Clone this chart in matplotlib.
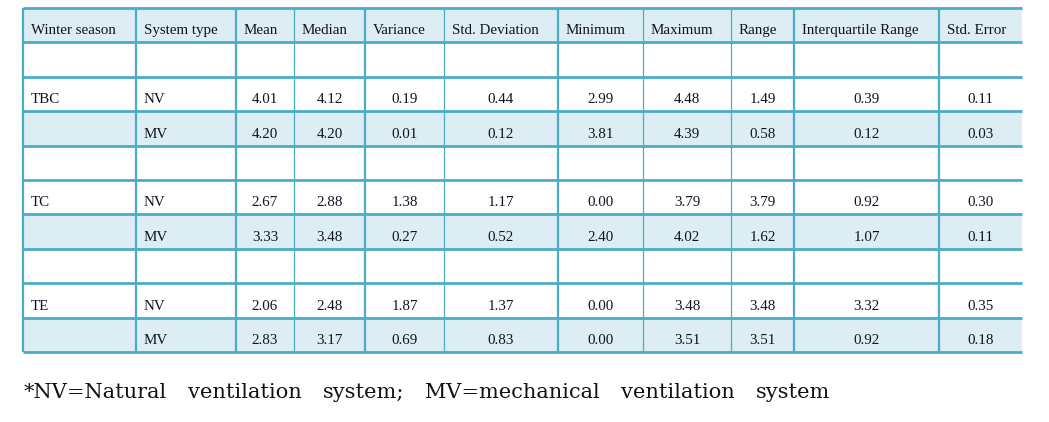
import matplotlib
matplotlib.use("Agg")
import matplotlib.pyplot as plt
from matplotlib.patches import Rectangle

headers = ["Winter season", "System type", "Mean", "Median", "Variance", "Std. Deviation",
           "Minimum", "Maximum", "Range", "Interquartile Range", "Std. Error"]
seasons = ["TBC", "TC", "TE"]
systems = ["NV", "MV"]
mean = [[4.01, 4.20], [2.67, 3.33], [2.06, 2.83]]
median = [[4.12, 4.20], [2.88, 3.48], [2.48, 3.17]]
variance = [[0.19, 0.01], [1.38, 0.27], [1.87, 0.69]]
std_dev = [[0.44, 0.12], [1.17, 0.52], [1.37, 0.83]]
minimum = [[2.99, 3.81], [0.00, 2.40], [0.00, 0.00]]
maximum = [[4.48, 4.39], [3.79, 4.02], [3.48, 3.51]]
value_range = [[1.49, 0.58], [3.79, 1.62], [3.48, 3.51]]
iqr = [[0.39, 0.12], [0.92, 1.07], [3.32, 0.92]]
std_err = [[0.11, 0.03], [0.30, 0.11], [0.35, 0.18]]
footnote_words = ["*NV=Natural", "ventilation", "system;", "MV=mechanical", "ventilation", "system"]

stats = [mean, median, variance, std_dev, minimum, maximum, value_range, iqr, std_err]

# layout (pixel coordinates)
W, H = 1049, 422
col_x = [23, 136, 236, 294, 365, 444, 558, 643, 731, 794, 939, 1022]
thin_cols = {294, 444, 643, 731}
top, bottom = 8, 352
n_rows = 10
row_h = (bottom - top) / n_rows
line_c = "#4BACC6"
fill_c = "#DCEEF3"
txt_c = "#111122"
font = "Liberation Serif"
fs = 10.8
foot_left, foot_right, foot_y = 24, 830, 392

fig = plt.figure(figsize=(W / 100, H / 100), dpi=100)
ax = fig.add_axes([0, 0, 1, 1])
ax.set_xlim(0, W)
ax.set_ylim(H, 0)
ax.axis("off")

rows = [("header", None, None)]
for si, s in enumerate(seasons):
    rows.append(("blank", None, None))
    for ki, k in enumerate(systems):
        rows.append(("data", si, ki))

for ri, (kind, si, ki) in enumerate(rows):
    y0 = top + ri * row_h
    y1 = y0 + row_h
    shaded = kind == "header" or (kind == "data" and ki == 1)
    if shaded:
        ax.add_patch(Rectangle((col_x[0], y0), col_x[-1] - col_x[0], row_h,
                               facecolor=fill_c, edgecolor="none", zorder=1))
    ty = y1 - 11.5
    if kind == "header":
        for ci, h in enumerate(headers):
            ax.text(col_x[ci] + 8, ty, h, ha="left", va="center", fontsize=fs,
                    family=font, color=txt_c, zorder=3)
    elif kind == "data":
        if ki == 0:
            ax.text(col_x[0] + 8, ty, seasons[si], ha="left", va="center", fontsize=fs,
                    family=font, color=txt_c, zorder=3)
        ax.text(col_x[1] + 8, ty, systems[ki], ha="left", va="center", fontsize=fs,
                family=font, color=txt_c, zorder=3)
        for ci, arr in enumerate(stats):
            cx = (col_x[ci + 2] + col_x[ci + 3]) / 2
            ax.text(cx, ty, f"{arr[si][ki]:.2f}", ha="center", va="center", fontsize=fs,
                    family=font, color=txt_c, zorder=3)

for ri in range(n_rows + 1):
    y = top + ri * row_h
    ax.plot([col_x[0], col_x[-1]], [y, y], color=line_c, lw=2.0,
            solid_capstyle="butt", zorder=2)
for x in col_x[:-1]:
    ax.plot([x, x], [top, bottom], color=line_c, lw=0.9 if x in thin_cols else 1.6,
            solid_capstyle="butt", zorder=2)

# footnote: words spread evenly between left and right limits
renderer = fig.canvas.get_renderer()
texts = [ax.text(0, foot_y, w, ha="left", va="center", fontsize=15,
                 family="DejaVu Serif", color="#111111") for w in footnote_words]
widths = [t.get_window_extent(renderer).width for t in texts]
gap = (foot_right - foot_left - sum(widths)) / (len(texts) - 1)
x = foot_left
for t, w in zip(texts, widths):
    t.set_x(x)
    x += w + gap

fig.savefig("out.png", dpi=100)
